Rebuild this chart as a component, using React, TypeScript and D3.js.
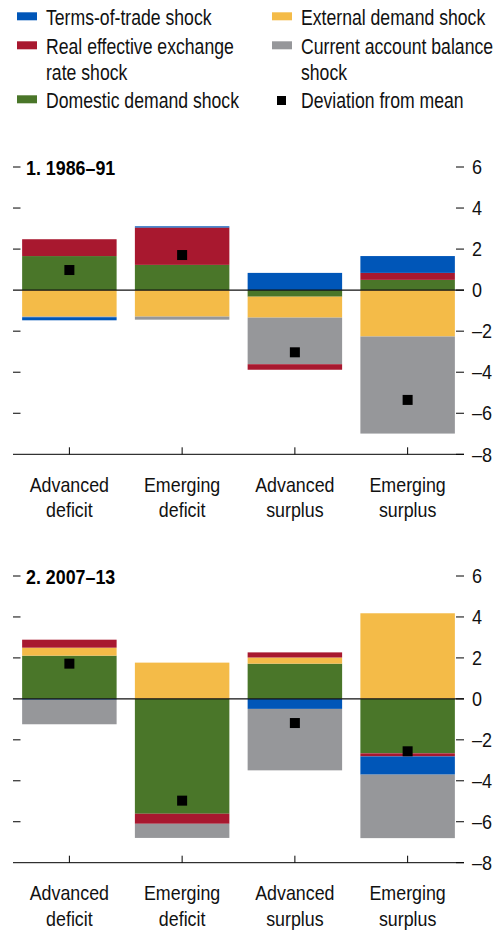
import React from "react";
import * as d3 from "d3";

const categories = ["Advanced deficit", "Emerging deficit", "Advanced surplus", "Emerging surplus"];
const categoryLines = [["Advanced", "deficit"], ["Emerging", "deficit"], ["Advanced", "surplus"], ["Emerging", "surplus"]];

// Panel 1: 1986–91
const p1TermsOfTrade = [-0.15, 0.06, 0.84, 0.82];
const p1RealExchange = [0.82, 1.82, -0.27, 0.34];
const p1Domestic = [1.66, 1.23, -0.32, 0.5];
const p1External = [-1.29, -1.29, -1.02, -2.26];
const p1CurrentAccount = [-0.03, -0.15, -2.27, -4.73];
const p1Deviation = [0.98, 1.71, -3.03, -5.35];

// Panel 2: 2007–13
const p2TermsOfTrade = [-0.04, 0, -0.49, -0.89];
const p2RealExchange = [0.39, -0.49, 0.25, -0.15];
const p2Domestic = [2.11, -5.61, 1.72, -2.66];
const p2External = [0.39, 1.77, 0.3, 4.18];
const p2CurrentAccount = [-1.2, -0.69, -3.0, -3.1];
const p2Deviation = [1.72, -4.97, -1.18, -2.56];

const yTicks = [6, 4, 2, 0, -2, -4, -6, -8];

const seriesKeys = ["tot", "reer", "dom", "ext", "ca"];
const seriesLabels: Record<string, string[]> = {
  tot: ["Terms-of-trade shock"],
  reer: ["Real effective exchange", "rate shock"],
  dom: ["Domestic demand shock"],
  ext: ["External demand shock"],
  ca: ["Current account balance", "shock"],
};
const deviationLabel = "Deviation from mean";

const colors: Record<string, string> = {
  tot: "#0056B8",
  reer: "#A8182F",
  dom: "#4A7629",
  ext: "#F4BB48",
  ca: "#96979A",
};

const FONT = "'Liberation Sans', Arial, sans-serif";

function fmt(v: number) {
  return v < 0 ? "\u2013" + Math.abs(v) : String(v);
}

type TProps = {
  x: number;
  y: number;
  size: number;
  sx?: number;
  anchor?: "start" | "middle" | "end";
  bold?: boolean;
  dy?: string;
  children: React.ReactNode;
};

function T({ x, y, size, sx = 0.85, anchor = "start", bold = false, dy, children }: TProps) {
  return (
    <text
      transform={`translate(${x},${y}) scale(${sx},1)`}
      textAnchor={anchor}
      fontSize={size}
      fontWeight={bold ? "bold" : "normal"}
      fontFamily={FONT}
      fill={bold ? "#000" : "#111"}
      dy={dy}
    >
      {children}
    </text>
  );
}

type PanelProps = {
  title: string;
  top: number;
  bottom: number;
  series: Record<string, number[]>;
  deviation: number[];
  order: string[];
};

function Panel({ title, top, bottom, series, deviation, order }: PanelProps) {
  const xLeft = 13;
  const xRight = 464;
  const x = d3.scaleBand<string>().domain(categories).range([xLeft, xRight]).paddingInner(0.162).paddingOuter(0.081);
  const y = d3.scaleLinear().domain([-8, 6]).range([bottom, top]);
  const rows = categories.map((c, i) => {
    const r: any = { cat: c };
    seriesKeys.forEach((k) => (r[k] = series[k][i]));
    return r;
  });
  const stacked = d3.stack<any>().keys(order).offset(d3.stackOffsetDiverging)(rows);
  const bw = x.bandwidth();
  return (
    <g>
      {stacked.map((s) => (
        <g key={s.key} fill={colors[s.key]}>
          {s.map((d, i) => {
            const y0 = y(d[0]);
            const y1 = y(d[1]);
            const h = Math.abs(y0 - y1);
            if (h < 0.01) return null;
            return <rect key={i} x={x(categories[i])} y={Math.min(y0, y1)} width={bw} height={h} />;
          })}
        </g>
      ))}
      {deviation.map((v, i) => (
        <rect key={"dv" + i} x={(x(categories[i]) as number) + bw / 2 - 5} y={y(v) - 5} width={10} height={10} fill="#000" />
      ))}
      <line x1={xLeft} x2={xRight} y1={y(0)} y2={y(0)} stroke="#111" strokeWidth={1.3} />
      {yTicks.filter((t) => t !== 0 && t !== -8).map((t) => (
        <line key={"l" + t} x1={xLeft} x2={xLeft + 7.5} y1={y(t)} y2={y(t)} stroke="#000" strokeWidth={1} />
      ))}
      {yTicks.map((t) => (
        <g key={"r" + t}>
          <line x1={xRight - 8} x2={xRight} y1={y(t)} y2={y(t)} stroke="#000" strokeWidth={1} />
          <T x={472} y={y(t)} size={20} sx={0.9} dy="0.36em">
            {fmt(t)}
          </T>
        </g>
      ))}
      <line x1={xLeft} x2={xRight} y1={y(-8)} y2={y(-8)} stroke="#000" strokeWidth={1} />
      {categories.map((c, i) => {
        const cx = (x(c) as number) + bw / 2;
        return (
          <g key={"c" + i}>
            <line x1={cx} x2={cx} y1={y(-8)} y2={y(-8) - 7} stroke="#000" strokeWidth={1} />
            {categoryLines[i].map((ln, j) => (
              <T key={j} x={cx} y={y(-8) + 37.5 + j * 25.5} size={21} anchor="middle">
                {ln}
              </T>
            ))}
          </g>
        );
      })}
      <T x={26} y={top} size={21} bold dy="0.36em">
        {title}
      </T>
    </g>
  );
}

function Legend() {
  const col1 = ["tot", "reer", "dom"];
  const col2 = ["ext", "ca"];
  const rowY = [25, 54, 108];
  const col2Y = [25, 54];
  const LS = 21.5;
  const LX = 0.82;
  return (
    <g>
      {col1.map((k, i) => (
        <g key={k}>
          <rect x={17} y={rowY[i] - 12.7} width={20} height={8} fill={colors[k]} />
          {seriesLabels[k].map((ln, j) => (
            <T key={j} x={46} y={rowY[i] + j * 26} size={LS} sx={LX}>
              {ln}
            </T>
          ))}
        </g>
      ))}
      {col2.map((k, i) => (
        <g key={k}>
          <rect x={272} y={col2Y[i] - 12.7} width={20} height={8} fill={colors[k]} />
          {seriesLabels[k].map((ln, j) => (
            <T key={j} x={301} y={col2Y[i] + j * 26} size={LS} sx={LX}>
              {ln}
            </T>
          ))}
        </g>
      ))}
      <rect x={277} y={96} width={9} height={9} fill="#000" />
      <T x={301} y={108} size={LS} sx={LX}>
        {deviationLabel}
      </T>
    </g>
  );
}

export default function App() {
  const p1Series = { tot: p1TermsOfTrade, reer: p1RealExchange, dom: p1Domestic, ext: p1External, ca: p1CurrentAccount };
  const p2Series = { tot: p2TermsOfTrade, reer: p2RealExchange, dom: p2Domestic, ext: p2External, ca: p2CurrentAccount };
  return (
    <svg width={496} height={930} style={{ position: "absolute", left: 0, top: 0, background: "#fff" }}>
      <Legend />
      <Panel
        title="1. 1986–91"
        top={167}
        bottom={454.3}
        series={p1Series}
        deviation={p1Deviation}
        order={["dom", "ext", "ca", "reer", "tot"]}
      />
      <Panel
        title="2. 2007–13"
        top={576}
        bottom={862.7}
        series={p2Series}
        deviation={p2Deviation}
        order={["dom", "ext", "reer", "tot", "ca"]}
      />
    </svg>
  );
}
